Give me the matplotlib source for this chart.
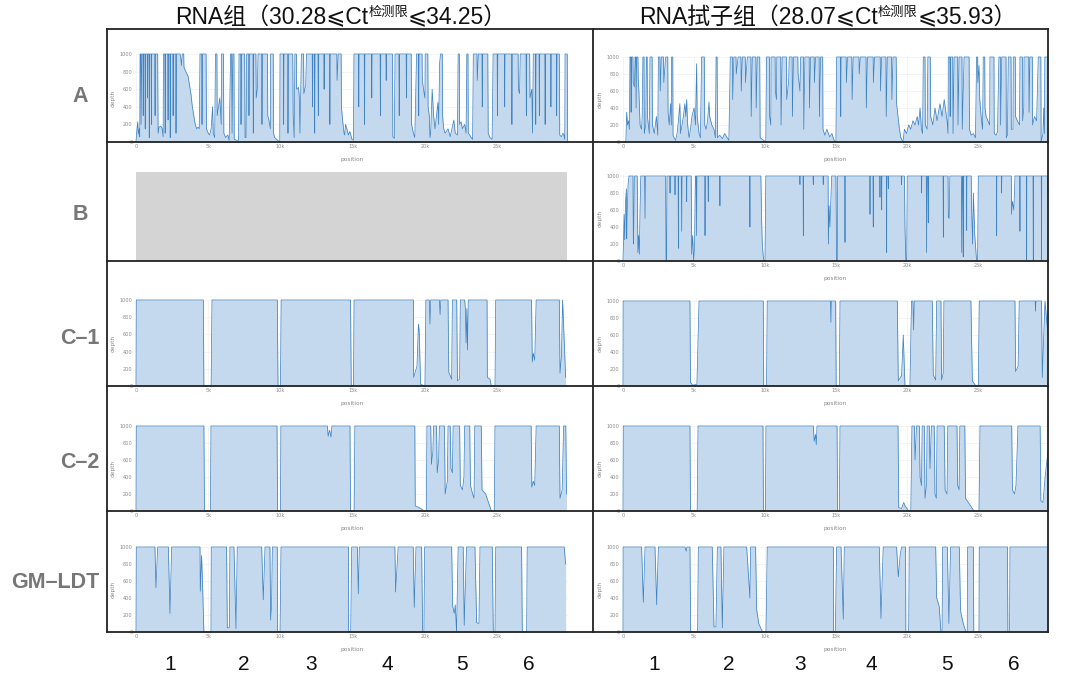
import matplotlib
matplotlib.use('Agg')
import matplotlib.pyplot as plt
from matplotlib.lines import Line2D
from matplotlib.transforms import blended_transform_factory

# ---------------- data (position in kb, depth) ----------------
GENOME_LEN = 29903
ROW_LABELS = ['A', 'B', 'C–1', 'C–2', 'GM–LDT']
COL_TITLES = [
    [('RNA组（30.28⩽Ct', 16.5, 0), ('检测限', 9.5, 8), ('⩽34.25）', 16.5, 0)],
    [('RNA拭子组（28.07⩽Ct', 16.5, 0), ('检测限', 9.5, 8), ('⩽35.93）', 16.5, 0)],
]
REGION_LABELS = ['1', '2', '3', '4', '5', '6']
REGION_POS_RNA = [2.35, 7.48, 12.11, 17.37, 22.57, 27.2]
REGION_POS_SWAB = [2.18, 7.46, 12.45, 17.45, 22.8, 27.51]
Y_TICKS = [0, 200, 400, 600, 800, 1000]
X_TICKS = [0, 5000, 10000, 15000, 20000, 25000]
X_TICK_LABELS = ['0', '5k', '10k', '15k', '20k', '25k']

A_RNA = [
    (0, 0), (0.05, 120), (0.12, 230), (0.16, 90), (0.22, 150), (0.26, 60),
    (0.28, 1000), (0.33, 1000), (0.35, 200), (0.40, 1000), (0.48, 1000), (0.50, 300), (0.52, 1000),
    (0.62, 1000), (0.64, 150), (0.66, 1000), (0.78, 1000), (0.8, 500), (0.82, 1000), (0.9, 1000),
    (0.92, 50), (0.95, 1000), (1.05, 1000), (1.07, 200), (1.09, 1000), (1.3, 1000), (1.32, 300),
    (1.34, 1000), (1.5, 1000), (1.53, 100),
    (1.6, 170), (1.7, 180), (1.8, 160), (1.88, 60),
    (1.9, 1000), (2.0, 1000), (2.02, 100), (2.05, 1000), (2.2, 1000), (2.22, 250), (2.24, 1000),
    (2.35, 1000), (2.37, 50), (2.4, 1000), (2.55, 1000), (2.57, 300), (2.6, 1000), (2.75, 1000),
    (2.77, 100), (2.8, 1000), (3.05, 1000), (3.1, 950), (3.15, 870), (3.2, 1000), (3.3, 1000),
    (3.32, 850), (3.45, 800), (3.6, 750), (3.7, 650), (3.8, 550), (3.9, 400), (4.0, 300),
    (4.1, 200), (4.2, 150), (4.3, 170), (4.38, 150),
    (4.43, 1000), (4.55, 1000), (4.57, 200), (4.6, 1000), (4.85, 1000), (4.88, 150), (5.0, 100),
    (5.1, 80), (5.2, 150), (5.3, 400), (5.35, 100), (5.45, 50),
    (5.5, 1000), (5.6, 1000), (5.62, 300), (5.8, 500), (5.9, 200), (5.92, 1000), (6.05, 1000),
    (6.08, 100), (6.2, 50), (6.35, 80), (6.45, 20),
    (6.55, 1000), (6.62, 1000), (6.65, 100), (6.7, 1000), (6.78, 1000), (6.8, 30), (6.95, 20),
    (7.1, 20),
    (7.13, 1000), (7.25, 1000), (7.27, 200), (7.3, 1000), (7.52, 1000), (7.55, 50), (7.62, 50),
    (7.66, 1000), (7.8, 1000), (7.82, 300), (7.85, 1000), (8.1, 1000), (8.12, 100), (8.15, 1000),
    (8.3, 1000), (8.32, 500), (8.4, 600), (8.45, 1000), (8.7, 1000), (8.72, 200), (8.75, 1000),
    (9.1, 1000), (9.12, 300), (9.2, 250), (9.3, 150), (9.32, 1000), (9.5, 1000), (9.52, 100),
    (9.6, 50), (9.8, 20), (9.95, 0),
    (9.97, 1000), (10.2, 1000), (10.22, 200), (10.25, 1000), (10.5, 1000), (10.52, 100),
    (10.55, 1000), (10.85, 1000), (10.88, 300), (10.95, 50),
    (11.0, 1000), (11.1, 1000), (11.12, 600), (11.25, 620), (11.3, 520), (11.35, 100),
    (11.45, 1000), (11.6, 1000), (11.62, 550), (11.75, 650), (11.8, 1000), (12.2, 1000),
    (12.22, 400), (12.25, 1000), (12.35, 1000), (12.37, 100),
    (12.4, 1000), (12.6, 1000), (12.62, 300), (12.65, 1000), (13.0, 1000), (13.02, 600),
    (13.05, 1000), (13.4, 1000), (13.42, 200), (13.45, 1000), (13.9, 1000), (13.92, 700),
    (14.0, 1000), (14.2, 1000), (14.22, 400), (14.3, 250), (14.4, 100), (14.45, 80),
    (14.5, 200), (14.6, 150), (14.7, 80), (14.8, 120), (14.95, 30), (15.05, 20),
    (15.09, 1000), (15.4, 1000), (15.42, 400), (15.45, 1000), (15.8, 1000), (15.82, 200),
    (15.85, 1000), (16.3, 1000), (16.32, 500), (16.35, 1000), (16.9, 1000), (16.92, 300),
    (16.95, 1000), (17.3, 1000), (17.32, 700), (17.35, 1000), (17.75, 1000), (17.78, 60),
    (17.88, 40),
    (17.93, 1000), (18.2, 1000), (18.22, 300), (18.25, 1000), (18.7, 1000), (18.72, 500),
    (18.75, 1000), (19.05, 1000), (19.08, 200), (19.2, 100), (19.3, 50),
    (19.42, 1000), (19.55, 1000), (19.57, 300), (19.6, 1000), (19.8, 1000), (19.82, 700),
    (19.9, 600), (20.0, 500), (20.02, 1000), (20.2, 1000), (20.22, 400), (20.3, 300), (20.35, 50),
    (20.4, 100), (20.5, 600), (20.6, 300), (20.7, 150), (20.9, 450), (20.95, 200), (21.02, 900),
    (21.08, 1000), (21.2, 1000), (21.22, 300), (21.3, 150), (21.4, 100), (21.6, 150),
    (21.75, 60), (22.0, 250), (22.1, 100), (22.25, 80),
    (22.3, 1000), (22.38, 1000), (22.4, 200), (22.5, 230), (22.6, 150), (22.75, 200),
    (22.85, 100),
    (22.9, 1000), (22.98, 1000), (23.0, 100), (23.1, 80), (23.2, 50), (23.3, 30),
    (23.35, 1000), (23.6, 1000), (23.62, 700), (23.7, 1000), (23.95, 1000), (23.97, 400),
    (24.0, 1000), (24.35, 1000), (24.38, 100), (24.5, 50), (24.65, 30),
    (24.72, 1000), (25.0, 1000), (25.02, 300), (25.05, 1000), (25.5, 1000), (25.52, 400),
    (25.55, 1000), (26.0, 1000), (26.02, 200), (26.05, 1000), (26.45, 1000), (26.47, 600),
    (26.55, 550), (26.6, 1000), (27.0, 1000), (27.02, 300), (27.05, 1000), (27.25, 1000),
    (27.27, 500), (27.4, 600), (27.45, 100),
    (27.5, 1000), (27.65, 1000), (27.67, 200), (27.7, 1000), (27.9, 1000), (27.92, 300),
    (27.95, 1000), (28.3, 1000), (28.32, 200), (28.35, 1000), (28.7, 1000), (28.72, 400),
    (28.75, 1000), (29.1, 1000), (29.12, 300), (29.15, 1000), (29.3, 1000), (29.33, 80),
    (29.45, 60), (29.55, 100), (29.62, 80), (29.68, 30),
    (29.7, 1000), (29.85, 1000), (29.87, 30), (29.9, 0),
]

A_SWAB = [
    (0, 0), (0.2, 0), (0.26, 350), (0.32, 200), (0.4, 250), (0.45, 150),
    (0.49, 1000), (0.55, 1000), (0.57, 350), (0.6, 1000), (0.7, 1000), (0.72, 700), (0.8, 650),
    (0.85, 1000), (0.9, 1000), (0.92, 400), (0.96, 1000), (1.05, 1000), (1.07, 750), (1.12, 600),
    (1.2, 200), (1.3, 150), (1.35, 300), (1.4, 1000), (1.48, 1000), (1.5, 100), (1.6, 200),
    (1.64, 1000), (1.7, 1000), (1.72, 300), (1.85, 100),
    (1.9, 1000), (2.05, 1000), (2.07, 200), (2.2, 100), (2.35, 300), (2.45, 80),
    (2.49, 1000), (2.6, 1000), (2.62, 600), (2.7, 1000), (2.85, 1000), (2.87, 700), (3.0, 1000),
    (3.15, 1000), (3.17, 350), (3.25, 200), (3.35, 450), (3.4, 200),
    (3.42, 1000), (3.5, 1000), (3.52, 80), (3.6, 50), (3.7, 20), (3.8, 100), (3.9, 250),
    (4.0, 450), (4.05, 100), (4.15, 200), (4.25, 300), (4.35, 450), (4.42, 300), (4.48, 500),
    (4.55, 200), (4.65, 50), (4.75, 150), (4.85, 300), (5.0, 400), (5.1, 200), (5.18, 920),
    (5.22, 300), (5.35, 100), (5.45, 50),
    (5.53, 1000), (5.72, 1000), (5.75, 200), (5.85, 150), (5.95, 250), (6.05, 470), (6.1, 300),
    (6.25, 200), (6.4, 150), (6.5, 50),
    (6.55, 1000), (6.62, 1000), (6.65, 50), (6.8, 80), (7.0, 40), (7.15, 100), (7.3, 60),
    (7.45, 20),
    (7.55, 1000), (7.7, 1000), (7.72, 500), (7.8, 1000), (7.95, 1000), (7.97, 800), (8.1, 1000),
    (8.3, 1000), (8.32, 600), (8.4, 1000), (8.6, 1000), (8.62, 700), (8.75, 1000), (9.0, 1000),
    (9.02, 300), (9.1, 1000), (9.35, 1000), (9.37, 400), (9.45, 1000), (9.62, 1000), (9.65, 50),
    (9.9, 20), (10.05, 0),
    (10.1, 1000), (10.3, 1000), (10.32, 300), (10.4, 200), (10.42, 1000), (10.7, 1000),
    (10.72, 600), (10.8, 500), (10.82, 1000), (11.1, 1000), (11.12, 200), (11.2, 1000),
    (11.5, 1000), (11.52, 500), (11.65, 700), (11.7, 1000), (11.9, 1000), (11.92, 300),
    (12.0, 1000), (12.3, 1000), (12.32, 800), (12.45, 600), (12.5, 1000), (12.7, 1000),
    (12.72, 150), (12.8, 1000), (13.1, 1000), (13.12, 400), (13.2, 1000), (13.45, 1000),
    (13.47, 700), (13.55, 1000), (13.8, 1000), (13.82, 300), (13.9, 1000), (14.05, 1000),
    (14.07, 150), (14.2, 80), (14.35, 150), (14.45, 100), (14.55, 60), (14.7, 100), (14.85, 20),
    (14.98, 0),
    (15.03, 1000), (15.3, 1000), (15.32, 300), (15.35, 1000), (15.7, 1000), (15.72, 700),
    (15.8, 1000), (16.1, 1000), (16.12, 500), (16.2, 1000), (16.6, 1000), (16.62, 800),
    (16.7, 1000), (17.1, 1000), (17.12, 400), (17.2, 1000), (17.6, 1000), (17.62, 700),
    (17.7, 1000), (18.1, 1000), (18.12, 600), (18.2, 1000), (18.5, 1000), (18.52, 300),
    (18.6, 1000), (18.9, 1000), (18.92, 500), (19.0, 1000), (19.22, 1000), (19.25, 450),
    (19.35, 300), (19.45, 150), (19.55, 50), (19.7, 0),
    (19.8, 150), (19.95, 100), (20.1, 200), (20.25, 150), (20.4, 250), (20.55, 200), (20.7, 300),
    (20.8, 200), (20.9, 400), (21.0, 150), (21.08, 100),
    (21.13, 1000), (21.25, 1000), (21.27, 200), (21.4, 150),
    (21.45, 1000), (21.62, 1000), (21.65, 300), (21.8, 200), (21.95, 400), (22.1, 250),
    (22.3, 450), (22.45, 300), (22.6, 500), (22.8, 250), (22.87, 100),
    (22.89, 1000), (23.0, 1000), (23.02, 300), (23.05, 1000), (23.2, 1000), (23.22, 100),
    (23.3, 1000), (23.55, 1000), (23.57, 200), (23.65, 1000), (23.85, 1000), (23.87, 150),
    (24.0, 1000), (24.35, 1000), (24.38, 150), (24.5, 80), (24.65, 100), (24.8, 50),
    (24.88, 1000), (24.95, 1000), (24.97, 700), (25.05, 900), (25.1, 500), (25.2, 300),
    (25.3, 150),
    (25.35, 1000), (25.45, 1000), (25.47, 400), (25.55, 300), (25.8, 200), (25.82, 1000),
    (26.1, 1000), (26.12, 100), (26.25, 80), (26.35, 120),
    (26.45, 1000), (26.55, 1000), (26.57, 200), (26.65, 1000), (26.95, 1000), (26.97, 50),
    (27.05, 80),
    (27.11, 1000), (27.3, 1000), (27.32, 150), (27.44, 150), (27.46, 1000), (27.6, 1000),
    (27.62, 300), (27.75, 250), (27.9, 200),
    (27.93, 1000), (28.1, 1000), (28.12, 250), (28.2, 400), (28.22, 1000), (28.55, 1000),
    (28.57, 350), (28.63, 1000), (28.8, 1000), (28.82, 200), (28.95, 300), (29.1, 250),
    (29.22, 1000), (29.4, 1000), (29.42, 0), (29.55, 100), (29.6, 400), (29.65, 100),
    (29.68, 1000), (29.9, 1000),
]

B_SWAB = [
    (0, 0), (0.04, 300), (0.08, 550), (0.12, 250), (0.18, 700), (0.24, 850), (0.26, 260),
    (0.3, 600), (0.36, 900), (0.42, 1000),
    (0.7, 1000), (0.73, 200), (0.76, 400), (0.8, 1000),
    (1.0, 1000), (1.05, 100), (1.1, 300), (1.15, 80), (1.2, 600), (1.25, 1000),
    (1.52, 1000), (1.55, 500), (1.58, 1000),
    (3.0, 1000), (3.03, 0), (3.07, 0), (3.1, 1000),
    (3.29, 1000), (3.31, 800), (3.33, 1000),
    (3.64, 1000), (3.66, 780), (3.68, 1000),
    (3.88, 1000), (3.9, 150), (3.92, 1000),
    (4.1, 1000), (4.13, 350), (4.16, 1000),
    (4.46, 1000), (4.48, 700), (4.5, 1000),
    (4.8, 1000), (4.83, 80), (4.9, 300), (4.97, 0), (5.03, 150), (5.1, 1000),
    (5.15, 1000), (5.18, 300), (5.21, 1000),
    (5.75, 1000), (5.77, 300), (5.8, 1000),
    (5.98, 1000), (6.0, 700), (6.02, 1000),
    (6.8, 1000), (6.82, 650), (6.84, 1000),
    (8.91, 1000), (8.93, 400), (8.95, 1000),
    (9.7, 1000), (9.75, 500), (9.8, 200), (9.87, 50), (9.92, 0), (9.99, 0), (10.05, 1000),
    (12.43, 1000), (12.45, 900), (12.47, 1000),
    (12.67, 1000), (12.69, 300), (12.71, 1000),
    (13.37, 1000), (13.39, 900), (13.41, 1000),
    (14.07, 1000), (14.09, 900), (14.11, 1000),
    (14.43, 1000), (14.45, 200), (14.5, 650), (14.56, 400), (14.62, 700), (14.68, 1000),
    (14.98, 1000), (15.03, 0), (15.08, 0), (15.1, 1000),
    (15.6, 1000), (15.62, 220), (15.64, 1000),
    (17.36, 1000), (17.38, 550), (17.4, 1000),
    (17.59, 1000), (17.61, 400), (17.63, 1000),
    (18.06, 1000), (18.08, 750), (18.1, 1000),
    (18.18, 1000), (18.2, 600), (18.22, 1000),
    (18.53, 1000), (18.55, 100), (18.57, 1000),
    (18.65, 1000), (18.67, 850), (18.69, 1000),
    (19.58, 1000), (19.6, 900), (19.62, 1000),
    (19.8, 1000), (19.84, 400), (19.9, 0), (19.96, 0), (20.0, 1000),
    (20.99, 1000), (21.01, 800), (21.03, 1000),
    (21.34, 1000), (21.36, 100), (21.4, 1000), (21.46, 1000), (21.48, 450), (21.5, 1000),
    (22.52, 1000), (22.54, 280), (22.56, 1000),
    (22.87, 1000), (22.89, 520), (22.95, 500), (23.0, 1000),
    (23.81, 1000), (23.83, 100), (23.88, 1000), (23.92, 1000), (23.94, 50), (23.96, 1000),
    (24.16, 1000), (24.18, 360), (24.2, 1000),
    (24.5, 1000), (24.53, 600), (24.6, 200), (24.65, 800), (24.75, 300), (24.88, 0),
    (24.95, 0), (25.0, 1000),
    (26.27, 1000), (26.29, 300), (26.31, 1000),
    (26.62, 1000), (26.64, 800), (26.66, 1000),
    (27.32, 1000), (27.34, 550), (27.4, 700), (27.5, 600), (27.58, 1000),
    (27.91, 1000), (27.93, 350), (27.95, 1000),
    (28.38, 1000), (28.4, 0), (28.42, 1000),
    (28.85, 1000), (28.87, 0), (28.89, 1000),
    (29.43, 1000), (29.45, 0), (29.47, 1000),
    (29.85, 1000), (29.9, 800),
]

C1_RNA = [
    (0, 0), (0.02, 1000), (4.66, 1000), (4.70, 0), (5.20, 0), (5.26, 1000),
    (9.78, 1000), (9.83, 0), (10.0, 0), (10.05, 1000),
    (14.85, 1000), (14.9, 0), (15.05, 0), (15.1, 1000),
    (19.2, 1000), (19.22, 100), (19.45, 230), (19.55, 720), (19.6, 650), (19.7, 20), (20.0, 0),
    (20.07, 1000),
    (20.3, 1000), (20.35, 720), (20.4, 1000), (21.0, 1000), (21.05, 830), (21.1, 1000),
    (21.6, 1000), (21.65, 160), (21.85, 80), (21.9, 1000),
    (22.2, 1000), (22.25, 60), (22.4, 80), (22.45, 1000),
    (22.75, 1000), (22.8, 900), (22.85, 500), (22.9, 900), (22.95, 420), (23.0, 1000),
    (24.3, 1000), (24.32, 100), (24.5, 80), (24.6, 0), (24.85, 0), (24.9, 1000),
    (27.38, 1000), (27.43, 280), (27.5, 380), (27.6, 300), (27.7, 1000),
    (29.3, 1000), (29.35, 150), (29.45, 350), (29.53, 1000), (29.74, 100),
]

C1_SWAB = [
    (0, 0), (0.01, 1000), (4.71, 1000), (4.75, 40), (4.9, 10), (5.2, 20), (5.35, 1000),
    (9.87, 1000), (9.9, 0), (10.1, 0), (10.15, 1000),
    (14.6, 1000), (14.63, 750), (14.66, 1000),
    (14.96, 1000), (15.0, 0), (15.22, 0), (15.27, 1000),
    (19.3, 1000), (19.37, 60), (19.6, 120), (19.72, 600), (19.84, 0), (20.19, 0), (20.3, 1000),
    (20.4, 1000), (20.45, 660), (20.5, 1000),
    (21.76, 1000), (21.83, 130), (22.0, 70), (22.07, 1000),
    (22.37, 1000), (22.42, 70), (22.53, 150), (22.58, 1000),
    (24.48, 1000), (24.58, 60), (24.83, 0), (25.0, 0), (25.07, 1000),
    (27.58, 1000), (27.62, 170), (27.8, 230), (27.88, 1000),
    (29.0, 1000), (29.03, 880), (29.06, 1000),
    (29.45, 1000), (29.5, 100), (29.69, 1000), (29.9, 600),
]

C2_RNA = [
    (0, 0), (0.02, 1000), (4.7, 1000), (4.74, 0), (5.15, 0), (5.19, 1000),
    (9.76, 1000), (9.8, 0), (10.0, 0), (10.03, 1000),
    (13.25, 1000), (13.3, 880), (13.4, 950), (13.5, 870), (13.56, 1000),
    (14.81, 1000), (14.85, 0), (15.1, 0), (15.15, 1000),
    (19.3, 1000), (19.33, 60), (19.6, 40), (19.8, 20), (19.95, 0), (20.1, 0), (20.14, 1000),
    (20.4, 1000), (20.45, 550), (20.55, 700), (20.6, 1000), (20.8, 1000), (20.85, 450),
    (20.95, 600), (21.0, 1000), (21.35, 1000), (21.4, 200), (21.55, 350), (21.6, 1000),
    (21.75, 1000), (21.8, 500), (21.9, 450), (21.95, 1000), (22.4, 1000), (22.45, 300),
    (22.6, 250), (22.7, 400), (22.75, 1000), (23.1, 1000), (23.15, 300), (23.3, 200),
    (23.4, 150), (23.45, 1000),
    (23.9, 1000), (23.95, 250), (24.2, 200), (24.4, 100), (24.6, 0), (24.8, 0), (24.85, 1000),
    (27.35, 1000), (27.4, 280), (27.5, 350), (27.6, 300), (27.7, 1000),
    (29.3, 1000), (29.35, 150), (29.5, 250), (29.6, 1000), (29.75, 1000), (29.8, 200),
]

C2_SWAB = [
    (0, 0), (0.02, 1000), (4.71, 1000), (4.75, 0), (5.22, 0), (5.28, 1000),
    (9.85, 1000), (9.88, 0), (10.02, 0), (10.06, 1000),
    (13.4, 1000), (13.45, 820), (13.55, 900), (13.6, 780), (13.65, 1000),
    (15.06, 1000), (15.1, 0), (15.22, 0), (15.27, 1000),
    (19.35, 1000), (19.4, 40), (19.6, 30), (19.75, 100), (19.85, 60), (20.1, 0), (20.25, 0),
    (20.33, 1000),
    (20.5, 1000), (20.55, 600), (20.65, 1000), (20.85, 1000), (20.9, 400), (21.0, 300),
    (21.05, 1000), (21.2, 1000), (21.25, 150), (21.35, 300), (21.4, 1000), (21.55, 1000),
    (21.6, 500), (21.7, 1000), (21.9, 1000), (21.95, 200), (22.05, 150), (22.1, 1000),
    (22.6, 1000), (22.66, 250), (22.8, 200), (22.85, 1000), (23.5, 1000), (23.55, 300),
    (23.65, 250), (23.7, 1000), (24.05, 1000), (24.1, 150), (24.3, 100), (24.5, 50),
    (24.7, 0), (25.05, 0), (25.12, 1000),
    (27.35, 1000), (27.4, 250), (27.55, 200), (27.65, 300), (27.79, 1000),
    (29.35, 1000), (29.4, 120), (29.55, 100), (29.7, 400), (29.9, 700),
]

GM_RNA = [
    (0, 0), (0.02, 1000), (1.31, 1000), (1.38, 520), (1.5, 1000),
    (2.24, 1000), (2.35, 220), (2.47, 1000),
    (4.43, 1000), (4.45, 480), (4.54, 900), (4.6, 600), (4.7, 0), (5.19, 0), (5.21, 1000),
    (6.27, 1000), (6.32, 50), (6.46, 50), (6.5, 1000),
    (6.78, 1000), (6.92, 40), (7.01, 1000),
    (8.7, 1000), (8.81, 380), (8.93, 1000),
    (9.27, 1000), (9.32, 140), (9.38, 300), (9.44, 1000),
    (9.78, 1000), (9.8, 0), (9.97, 0), (10.04, 1000),
    (14.7, 1000), (14.72, 0), (14.86, 0), (14.93, 1000),
    (15.32, 1000), (15.39, 450), (15.46, 1000),
    (17.92, 1000), (17.97, 470), (18.1, 870), (18.15, 1000),
    (19.19, 1000), (19.26, 290), (19.38, 1000),
    (19.77, 1000), (19.84, 0), (19.93, 0), (19.98, 1000),
    (21.85, 1000), (21.92, 300), (22.03, 220), (22.1, 320), (22.19, 0), (22.3, 1000),
    (22.65, 1000), (22.72, 80), (22.88, 1000),
    (23.46, 1000), (23.58, 110), (23.74, 100), (23.81, 1000),
    (24.66, 1000), (24.73, 0), (24.85, 0), (24.9, 1000),
    (26.69, 1000), (26.74, 0), (27.04, 0), (27.08, 1000),
    (29.64, 1000), (29.74, 800),
]

GM_SWAB = [
    (0, 0), (0.01, 1000), (1.31, 1000), (1.43, 350), (1.55, 1000),
    (2.25, 1000), (2.37, 320), (2.49, 1000),
    (4.36, 1000), (4.45, 950), (4.5, 1000), (4.71, 1000), (4.76, 0), (5.25, 0), (5.3, 1000),
    (6.28, 1000), (6.4, 60), (6.54, 60), (6.64, 1000),
    (6.89, 1000), (6.99, 50), (7.1, 1000),
    (8.7, 1000), (8.93, 400), (8.98, 1000),
    (9.33, 1000), (9.4, 270), (9.55, 100), (9.76, 20), (9.87, 0), (10.06, 0), (10.15, 1000),
    (14.8, 1000), (14.82, 0), (14.94, 0), (15.03, 1000),
    (15.34, 1000), (15.5, 150), (15.57, 1000),
    (18.03, 1000), (18.15, 160), (18.31, 1000),
    (19.25, 1000), (19.37, 650), (19.5, 900), (19.6, 1000),
    (19.88, 1000), (19.9, 0), (20.1, 0), (20.14, 1000),
    (22.0, 1000), (22.07, 400), (22.25, 300), (22.37, 0), (22.45, 0), (22.49, 1000),
    (22.82, 1000), (22.93, 100), (23.05, 1000),
    (23.66, 1000), (23.75, 250), (23.94, 100), (24.13, 0), (24.22, 0), (24.25, 1000),
    (24.65, 1000), (24.68, 0), (25.05, 0), (25.07, 1000),
    (27.05, 1000), (27.08, 0), (27.2, 0), (27.23, 1000),
    (29.92, 1000),
]

RNA_PANELS = [A_RNA, None, C1_RNA, C2_RNA, GM_RNA]
SWAB_PANELS = [A_SWAB, B_SWAB, C1_SWAB, C2_SWAB, GM_SWAB]

# ---------------- layout (pixels) ----------------
W, H = 1080, 676
ROW_LINES = [29, 142, 261, 386, 511, 632]
COL_LINES = [107, 593, 1048]
ROW_Y_LEFT = [(142, 54), (261, 172), (386, 300), (511, 426), (632, 547)]
ROW_Y_RIGHT = [(142, 57), (261, 176), (386, 301), (511, 426), (632, 547)]
PLOT_X_LEFT = (136, 568)
PLOT_X_RIGHT = (623, 1048)
ROW_LABEL_Y = [97, 215, 338, 463, 582]
ROW_LABEL_X = [80, 80, 80, 80, 55]

FILL = '#c4d9ee'
LINE = '#3f83c3'
TXT = '#777777'
LATIN_CJK = ['Liberation Sans', 'Noto Sans CJK SC', 'DejaVu Sans']

fig = plt.figure(figsize=(W / 100, H / 100), dpi=100)
fig.patch.set_facecolor('white')


def fx(px):
    return px / W


def fy(py):
    return 1 - py / H


def make_axes(xr, yr):
    l, r = xr
    y0, y1 = yr
    ax = fig.add_axes([fx(l), fy(y0), (r - l) / W, (y0 - y1) / H])
    ax.set_xlim(0, GENOME_LEN)
    ax.set_ylim(0, 1000)
    ax.set_facecolor('none')
    for s in ax.spines.values():
        s.set_visible(False)
    ax.set_yticks(Y_TICKS)
    ax.set_yticklabels([str(v) for v in Y_TICKS])
    ax.set_xticks(X_TICKS)
    ax.set_xticklabels(X_TICK_LABELS)
    ax.tick_params(length=0, labelsize=3.6, colors='#8a8a8a', pad=2.5)
    ax.tick_params(axis='x', pad=1.2)
    ax.grid(color='#f0f0f0', lw=0.5)
    ax.set_axisbelow(True)
    ax.set_ylabel('depth', fontsize=4.2, color='#8a8a8a', labelpad=3)
    ax.set_xlabel('position', fontsize=4.2, color='#8a8a8a', labelpad=6)
    return ax


def draw_series(ax, pts):
    xs = [p[0] * 1000 for p in pts]
    ys = [p[1] for p in pts]
    ax.fill_between(xs, ys, 0, color=FILL, lw=0, zorder=2)
    ax.plot(xs, ys, color=LINE, lw=0.55, clip_on=False, zorder=3)


axes_bottom = []
for i in range(5):
    if RNA_PANELS[i] is None:
        yr = ROW_Y_LEFT[i]
        axg = fig.add_axes([fx(PLOT_X_LEFT[0]), fy(yr[0]),
                            (PLOT_X_LEFT[1] - 1 - PLOT_X_LEFT[0]) / W, (yr[0] - yr[1]) / H])
        axg.set_facecolor('#d4d4d4')
        axg.set_xticks([])
        axg.set_yticks([])
        for s in axg.spines.values():
            s.set_visible(False)
    else:
        axl = make_axes(PLOT_X_LEFT, ROW_Y_LEFT[i])
        draw_series(axl, RNA_PANELS[i])
        if i == 4:
            axes_bottom.append(axl)
    axr = make_axes(PLOT_X_RIGHT, ROW_Y_RIGHT[i])
    draw_series(axr, SWAB_PANELS[i])
    if i == 4:
        axes_bottom.append(axr)

# frame lines
for y in ROW_LINES:
    fig.add_artist(Line2D([fx(COL_LINES[0]), fx(COL_LINES[-1])], [fy(y), fy(y)],
                          color='#222222', lw=1.3, zorder=5))
for x in COL_LINES:
    fig.add_artist(Line2D([fx(x), fx(x)], [fy(ROW_LINES[0]), fy(ROW_LINES[-1])],
                          color='#222222', lw=1.3, zorder=5))

# row labels
for lab, y, x in zip(ROW_LABELS, ROW_LABEL_Y, ROW_LABEL_X):
    fig.text(fx(x), fy(y), lab, ha='center', va='center', fontsize=15.5,
             fontweight='bold', color=TXT, family=['Liberation Sans', 'DejaVu Sans'])

# region numbers
for ax, positions in zip(axes_bottom, [REGION_POS_RNA, REGION_POS_SWAB]):
    tr = blended_transform_factory(ax.transData, fig.transFigure)
    for lab, p in zip(REGION_LABELS, positions):
        ax.text(p * 1000, fy(665), lab, transform=tr, ha='center', va='center',
                fontsize=15, color='#111111', family=['Liberation Sans', 'DejaVu Sans'],
                clip_on=False)

# column titles with superscript
renderer = fig.canvas.get_renderer()
TITLE_CX = [341, 828]
TITLE_BASE = 24
for parts, cx in zip(COL_TITLES, TITLE_CX):
    texts = []
    for s, size, dy in parts:
        t = fig.text(0, 0, s, fontsize=size, va='baseline', ha='left', color='#111111',
                     family=LATIN_CJK)
        texts.append(t)
    widths = [t.get_window_extent(renderer).width for t in texts]
    x = cx - sum(widths) / 2
    for t, w, (s, size, dy) in zip(texts, widths, parts):
        t.set_position((fx(x), fy(TITLE_BASE - dy)))
        x += w

fig.savefig('out.png', dpi=100, facecolor='white')
